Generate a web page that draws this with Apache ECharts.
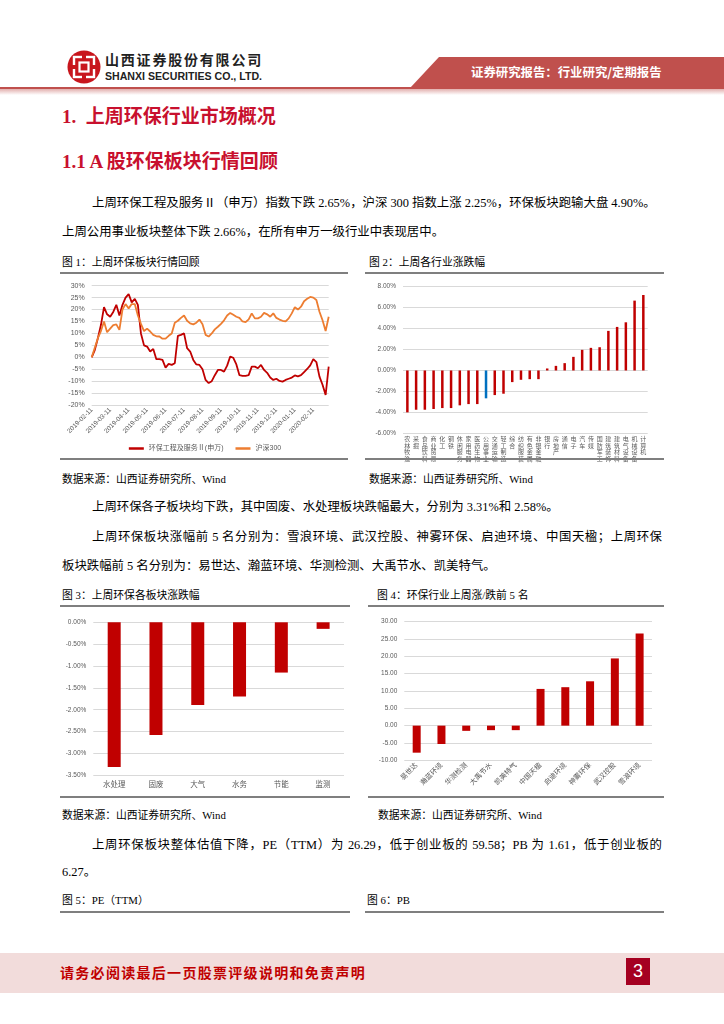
<!DOCTYPE html>
<html><head><meta charset="utf-8">
<script src="https://cdn.jsdelivr.net/npm/echarts@6/dist/echarts.min.js"></script>
<style>
html,body{margin:0;padding:0;background:#fff;}
body{width:724px;height:1024px;position:relative;overflow:hidden;font-family:"Liberation Serif","Noto Sans CJK SC",serif;color:#000;}
.t{position:absolute;white-space:nowrap;line-height:20px;height:20px;}
.h{font-size:19px;font-weight:bold;color:#C8102E;}
.p{font-size:12.4px;}
.j{text-align:justify;text-align-last:justify;}
.c{font-size:10.8px;font-family:"Liberation Serif","Noto Sans CJK SC",sans-serif;}
.rule{position:absolute;height:2px;background:#7f7f7f;}
.chart{position:absolute;}
</style>
</head><body>
<!-- header -->
<svg style="position:absolute;left:67px;top:50px" width="34" height="34" viewBox="0 0 34 34">
  <circle cx="17" cy="17" r="16.5" fill="#C8161D"/>
  <rect x="7" y="7" width="20" height="20" fill="none" stroke="#fff" stroke-width="2.4"/>
  <rect x="12.5" y="12.5" width="9" height="9" fill="none" stroke="#fff" stroke-width="2.2"/>
  <rect x="15" y="3" width="4" height="6" fill="#C8161D"/>
  <rect x="15" y="25" width="4" height="6" fill="#C8161D"/>
  <rect x="3" y="15" width="6" height="4" fill="#C8161D"/>
  <rect x="25" y="15" width="6" height="4" fill="#C8161D"/>
</svg>
<div class="t" style="left:105px;top:49px;font-family:'Noto Sans CJK SC';font-weight:bold;font-size:14px;letter-spacing:1.8px;color:#222;">山西证券股份有限公司</div>
<div class="t" id="eng" style="left:105px;top:66px;font-family:'Liberation Sans';font-weight:bold;font-size:11px;color:#222;transform-origin:0 50%;">SHANXI SECURITIES CO., LTD.</div>
<div style="position:absolute;left:410px;top:57px;width:314px;height:31px;background:#C0504D;clip-path:polygon(29px 0,100% 0,100% 100%,0 100%);"></div>
<div class="t" style="left:471px;top:62px;font-family:'Noto Sans CJK SC';font-weight:bold;font-size:12.4px;color:#fff;">证券研究报告：行业研究/定期报告</div>
<div style="position:absolute;left:0;top:87px;width:724px;height:2px;background:#C0504D;"></div>
<div style="position:absolute;left:0;top:89px;width:724px;height:6px;background:linear-gradient(rgba(192,80,77,0.45),rgba(192,80,77,0));"></div>

<div class="t h" style="left:62px;top:107px;">1.&nbsp; 上周环保行业市场概况</div>
<div class="t h" style="left:62px;top:152px;">1.1 A 股环保板块行情回顾</div>
<div class="t p j" style="left:92px;top:193px;width:559px;">上周环保工程及服务Ⅱ（申万）指数下跌 2.65%，沪深 300 指数上涨 2.25%，环保板块跑输大盘 4.90%。</div>
<div class="t p" style="left:62px;top:222px;">上周公用事业板块整体下跌 2.66%，在所有申万一级行业中表现居中。</div>
<div class="t c" style="left:62px;top:252px;">图 1：上周环保板块行情回顾</div>
<div class="t c" style="left:369px;top:252px;">图 2：上周各行业涨跌幅</div>
<div class="rule" style="left:60px;top:272px;width:288px;"></div>
<div class="rule" style="left:365px;top:272px;width:299px;"></div>

<div class="chart" id="c1" style="left:60px;top:273px;width:290px;height:184px;"></div>
<div class="chart" id="c2" style="left:365px;top:273px;width:300px;height:190px;"></div>

<div class="rule" style="left:60px;top:458px;width:288px;"></div>
<div class="rule" style="left:365px;top:458px;width:299px;"></div>
<div class="t c" style="left:62px;top:469px;">数据来源：山西证券研究所、Wind</div>
<div class="t c" style="left:369px;top:469px;">数据来源：山西证券研究所、Wind</div>

<div class="t p" style="left:92px;top:497px;">上周环保各子板块均下跌，其中固废、水处理板块跌幅最大，分别为 3.31%和 2.58%。</div>
<div class="t p j" style="left:92px;top:527px;width:570px;">上周环保板块涨幅前 5 名分别为：雪浪环境、武汉控股、神雾环保、启迪环境、中国天楹；上周环保</div>
<div class="t p" style="left:62px;top:556px;">板块跌幅前 5 名分别为：易世达、瀚蓝环境、华测检测、大禹节水、凯美特气。</div>
<div class="t c" style="left:62px;top:585px;">图 3：上周环保各板块涨跌幅</div>
<div class="t c" style="left:377px;top:585px;">图 4：环保行业上周涨/跌前 5 名</div>
<div class="rule" style="left:60px;top:605px;width:290px;"></div>
<div class="rule" style="left:368px;top:605px;width:296px;"></div>

<div class="chart" id="c3" style="left:60px;top:607px;width:290px;height:190px;"></div>
<div class="chart" id="c4" style="left:365px;top:607px;width:300px;height:190px;"></div>

<div class="rule" style="left:60px;top:796px;width:290px;"></div>
<div class="rule" style="left:368px;top:796px;width:296px;"></div>
<div class="t c" style="left:62px;top:805px;">数据来源：山西证券研究所、Wind</div>
<div class="t c" style="left:378px;top:805px;">数据来源：山西证券研究所、Wind</div>

<div class="t p j" style="left:92px;top:835px;width:570px;">上周环保板块整体估值下降，PE（TTM）为 26.29，低于创业板的 59.58；PB 为 1.61，低于创业板的</div>
<div class="t p" style="left:62px;top:862px;">6.27。</div>
<div class="t c" style="left:62px;top:890px;">图 5：PE（TTM）</div>
<div class="t c" style="left:367px;top:890px;">图 6：PB</div>
<div class="rule" style="left:60px;top:911px;width:290px;"></div>
<div class="rule" style="left:365px;top:911px;width:299px;"></div>

<!-- footer -->
<div style="position:absolute;left:0;top:953px;width:724px;height:40px;background:#F2DCDB;"></div>
<div class="t" style="left:60px;top:962px;font-family:'Noto Sans CJK SC';font-weight:bold;font-size:14px;letter-spacing:1.3px;color:#C00000;">请务必阅读最后一页股票评级说明和免责声明</div>
<div style="position:absolute;left:626px;top:958px;width:24px;height:27px;background:#A50021;color:#fff;font-family:'Liberation Sans';font-size:18px;line-height:27px;text-align:center;">3</div>

<script>
// ---------- Data ----------
const lineDates = [
'2019-02-11','2019-02-16','2019-02-21','2019-02-26',
'2019-03-01','2019-03-06','2019-03-11','2019-03-16','2019-03-21','2019-03-26',
'2019-04-01','2019-04-06','2019-04-11','2019-04-16','2019-04-21','2019-04-26',
'2019-05-01','2019-05-06','2019-05-11','2019-05-16','2019-05-21','2019-05-26',
'2019-06-01','2019-06-06','2019-06-11','2019-06-16','2019-06-21','2019-06-26',
'2019-07-01','2019-07-06','2019-07-11','2019-07-16','2019-07-21','2019-07-26',
'2019-08-01','2019-08-06','2019-08-11','2019-08-16','2019-08-21','2019-08-26',
'2019-09-01','2019-09-06','2019-09-11','2019-09-16','2019-09-21','2019-09-26',
'2019-10-01','2019-10-06','2019-10-11','2019-10-16','2019-10-21','2019-10-26',
'2019-11-01','2019-11-06','2019-11-11','2019-11-16','2019-11-21','2019-11-26',
'2019-12-01','2019-12-06','2019-12-11','2019-12-16','2019-12-21','2019-12-26',
'2020-01-01','2020-01-06','2020-01-11','2020-01-16','2020-01-21','2020-01-26',
'2020-02-01','2020-02-06','2020-02-11','2020-02-16','2020-02-21','2020-02-26',
'2020-03-01','2020-03-06'];
const envIndex = [0,3.0,8.0,13.5,21,18,17,19,22,17.5,
22,25,26.5,23,24.5,22,10,5,4.5,2.4,
3.5,-0.8,-0.8,-1.1,-4.3,-2.8,-3.2,-2.5,9.0,9.4,
10,3.8,2.4,-1.1,-3.0,-3.2,-5.0,-9.5,-10.8,-10,
-7.5,-5.3,-5.3,-6,-3.5,0.3,-0.2,-3,-7.5,-7.8,
-7.8,-7.5,-3.9,-3.9,-4.6,-3.2,-5.3,-6.5,-8.5,-9.5,
-9.0,-9.9,-10.2,-9.5,-9.0,-8.5,-7.6,-8.0,-7.5,-6.2,
-4.9,-3.4,-0.8,-2.0,-8.1,-11.5,-15.8,-3.9];
const hs300 = [0,4,8,11,15,10.5,12,13.5,13.8,11.5,
20,22.3,20.5,22.3,22.3,17.5,14,11,12,10.8,
9.4,8.8,8.7,7.8,7.8,9,10,14.5,15.3,16.5,
17.5,15.3,14.2,13.8,14.5,15.8,13.8,9.4,8.7,10,
11.7,12.8,14,15.5,17.5,18.6,17.8,17,16.5,15,
14.7,15.9,18.4,16.3,16.3,17,18.6,18,17,18.4,
16.5,15.8,15.3,15,16.3,18.4,21,20,21.2,23.5,
24.5,25.3,25,24,19.1,15.5,11,17];
const seriesNames = ['环保工程及服务Ⅱ(申万)','沪深300'];

const industries = ['农林牧渔','采掘','食品饮料','商业贸易','化工','钢铁','休闲服务','家用电器','医药生物','公用事业',
'交通运输','轻工制造','综合','纺织服装','有色金属','非银金融','银行','房地产','通信','电子',
'汽车','传媒','国防军工','建筑装饰','建筑材料','电气设备','机械设备','计算机'];
const industryChg = [-4.0,-3.75,-3.75,-3.68,-3.59,-3.59,-3.33,-3.21,-3.21,-2.66,
-2.35,-2.22,-1.11,-0.89,-0.83,-0.83,0.19,0.44,0.70,1.30,
1.97,2.16,2.22,3.78,4.16,4.60,6.67,7.21];
const highlightIndustry = '公用事业';

const subSectors = ['水处理','固废','大气','水务','节能','监测'];
const subSectorChg = [-3.31,-2.58,-1.89,-1.70,-1.15,-0.15];

const stocks = ['易世达','瀚蓝环境','华测检测','大禹节水','凯美特气','中国天楹','启迪环境','神雾环保','武汉控股','雪浪环境'];
const stockChg = [-7.8,-5.3,-1.5,-1.3,-1.3,10.6,11.1,12.8,19.4,26.6];

// ---------- Charts ----------
const RED='#C00000', ORANGE='#ED7D31', BLUE='#0070C0', GRID='#d9d9d9', LBL='#595959';
const FONT='"Liberation Sans","Noto Sans CJK SC",sans-serif';

// fit english line
(function(){const e=document.getElementById('eng');const w=e.getBoundingClientRect().width;e.style.transform='scaleX('+(157/w)+')';})();

const c1 = echarts.init(document.getElementById('c1'));
c1.setOption({
  animation:false,
  textStyle:{fontFamily:FONT},
  grid:{left:31.7,right:21.3,top:12.7,bottom:52},
  legend:{bottom:0,left:'center',icon:'rect',itemWidth:15,itemHeight:2.5,itemGap:12,
    textStyle:{fontSize:7,color:LBL,fontFamily:FONT},data:seriesNames},
  xAxis:{type:'category',data:lineDates,boundaryGap:false,
    axisLine:{show:false},axisTick:{show:false},
    axisLabel:{interval:(i,v)=>v.slice(8)==='11',rotate:45,fontSize:6.5,color:LBL,margin:4,fontFamily:FONT}},
  yAxis:{type:'value',min:-20,max:30,interval:5,
    axisLabel:{formatter:'{value}%',fontSize:7,color:LBL,margin:7,fontFamily:FONT},
    axisLine:{show:false},axisTick:{show:false},
    splitLine:{lineStyle:{color:GRID,width:1}}},
  series:[
    {name:seriesNames[0],type:'line',data:envIndex,symbol:'none',lineStyle:{width:1.8,color:RED},itemStyle:{color:RED}},
    {name:seriesNames[1],type:'line',data:hs300,symbol:'none',lineStyle:{width:1.8,color:ORANGE},itemStyle:{color:ORANGE}}
  ]
});

const c2 = echarts.init(document.getElementById('c2'));
c2.setOption({
  animation:false,
  textStyle:{fontFamily:FONT},
  grid:{left:38,right:17.3,top:13.7,bottom:29.7},
  xAxis:{type:'category',data:industries,
    axisLine:{show:false,onZero:false},axisTick:{show:false},
    axisLabel:{interval:0,formatter:v=>v.split('').join('\n'),fontSize:6,lineHeight:6.6,color:LBL,margin:3,verticalAlign:'top',fontFamily:FONT}},
  yAxis:{type:'value',min:-6,max:8,interval:2,
    axisLabel:{formatter:v=>v.toFixed(2)+'%',fontSize:6.5,color:LBL,margin:7,fontFamily:FONT},
    axisLine:{show:false},axisTick:{show:false},
    splitLine:{lineStyle:{color:GRID}}},
  series:[{type:'bar',data:industryChg,barWidth:2.5,
    itemStyle:{color:p=>p.name===highlightIndustry?BLUE:RED}}]
});

const c3 = echarts.init(document.getElementById('c3'));
c3.setOption({
  animation:false,
  textStyle:{fontFamily:FONT},
  grid:{left:33.3,right:6,top:15.3,bottom:21.7},
  xAxis:{type:'category',data:subSectors,
    axisLine:{show:false,onZero:false},axisTick:{show:false},
    axisLabel:{interval:0,fontSize:7.5,color:LBL,margin:6,fontFamily:FONT}},
  yAxis:{type:'value',min:-3.5,max:0,interval:0.5,
    axisLabel:{formatter:v=>v.toFixed(2)+'%',fontSize:6.5,color:LBL,margin:7,fontFamily:FONT},
    axisLine:{show:false},axisTick:{show:false},
    splitLine:{lineStyle:{color:GRID}}},
  series:[{type:'bar',data:subSectorChg,barWidth:13,itemStyle:{color:RED}}]
});

const c4 = echarts.init(document.getElementById('c4'));
c4.setOption({
  animation:false,
  textStyle:{fontFamily:FONT},
  grid:{left:39.3,right:13,top:14.7,bottom:36.7},
  xAxis:{type:'category',data:stocks,
    axisLine:{show:false,onZero:false},axisTick:{show:false},
    axisLabel:{interval:0,rotate:45,fontSize:7,color:LBL,margin:4,fontFamily:FONT}},
  yAxis:{type:'value',min:-10,max:30,interval:5,
    axisLabel:{formatter:v=>v.toFixed(2),fontSize:6.5,color:LBL,margin:7,fontFamily:FONT},
    axisLine:{show:false},axisTick:{show:false},
    splitLine:{lineStyle:{color:GRID}}},
  series:[{type:'bar',data:stockChg,barWidth:8,itemStyle:{color:RED}}]
});
</script>
</body></html>
